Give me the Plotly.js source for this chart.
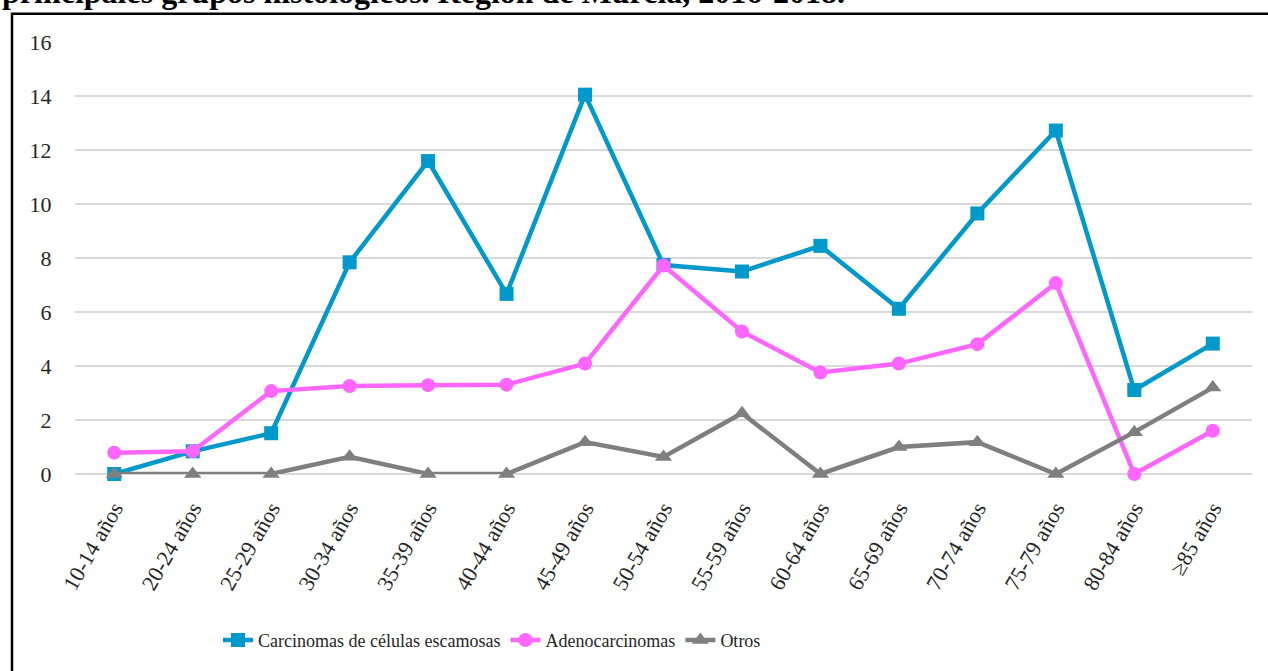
<!DOCTYPE html>
<html>
<head>
<meta charset="utf-8">
<script src="https://cdn.plot.ly/plotly-3.0.1.min.js"></script>
<style>
  html, body { margin: 0; padding: 0; background: #fff; }
  #chart { width: 1268px; height: 671px; }
</style>
</head>
<body>
<div id="chart"></div>
<script>
// age groups (x categories)
const ageGroups = ['10-14 años', '20-24 años', '25-29 años', '30-34 años', '35-39 años',
    '40-44 años', '45-49 años', '50-54 años', '55-59 años', '60-64 años',
    '65-69 años', '70-74 años', '75-79 años', '80-84 años', '≥85 años'];

// rates
const carcinomasEscamosas = [0, 0.84, 1.51, 7.84, 11.59, 6.67, 14.05, 7.74, 7.5, 8.45, 6.12, 9.65, 12.72, 3.11, 4.83];
const adenocarcinomas = [0.79, 0.84, 3.07, 3.26, 3.29, 3.31, 4.09, 7.72, 5.28, 3.76, 4.09, 4.81, 7.07, 0, 1.6];
const otros = [0, 0, 0, 0.64, 0, 0, 1.18, 0.63, 2.25, 0, 1.0, 1.18, 0, 1.55, 3.2];

const yTicks = [0, 2, 4, 6, 8, 10, 12, 14, 16];

const serif = '"Liberation Serif", "DejaVu Serif", serif';

function series(name, y, color, symbol, size) {
    return {
        x: ageGroups, y, name, type: 'scatter', mode: 'lines+markers', cliponaxis: false,
        line: { color, width: 4.5 },
        marker: { color, symbol, size },
    };
}

const traces = [
    series('Carcinomas de células escamosas', carcinomasEscamosas, '#0099CC', 'square', 14),
    series('Adenocarcinomas', adenocarcinomas, '#FF66FF', 'circle', 14),
    series('Otros', otros, '#7F7F7F', 'triangle-up', 15),
];

// outer frame: top/left edges visible, right/bottom run past the picture
const L = 75, T = 42, W = 1177, H = 434;
const px = v => (v - L) / W, py = v => (T + H - v) / H;

const layout = {
    width: 1268, height: 671,
    margin: { l: L, r: 1268 - L - W, t: T, b: 671 - T - H },
    paper_bgcolor: '#fff', plot_bgcolor: '#fff',
    font: { family: serif, color: '#262626' },
    showlegend: true,
    legend: {
        orientation: 'h', x: px(218), xanchor: 'left', y: py(643), yanchor: 'middle',
        font: { size: 18, color: '#262626' }, itemwidth: 30, traceorder: 'normal',
    },
    xaxis: {
        type: 'category', range: [-0.5, ageGroups.length - 0.5],
        showgrid: false, showline: false, zeroline: false,
        tickangle: -60, tickfont: { size: 22, color: '#262626' },
        ticks: 'outside', ticklen: 12, tickcolor: 'rgba(0,0,0,0)',
        fixedrange: true,
    },
    yaxis: {
        range: [0, 16], tickvals: yTicks, ticktext: yTicks.map(String),
        showgrid: true, gridcolor: '#D9D9D9', gridwidth: 2,
        zeroline: true, zerolinecolor: '#D9D9D9', zerolinewidth: 2,
        showline: false, tickfont: { size: 22, color: '#262626' },
        ticks: 'outside', ticklen: 18, tickcolor: 'rgba(0,0,0,0)',
        fixedrange: true,
    },
    shapes: [{
        type: 'rect', xref: 'paper', yref: 'paper', layer: 'below',
        x0: px(12), x1: px(1290), y0: py(700), y1: py(13.5),
        line: { color: '#000', width: 2.5 }, fillcolor: 'rgba(0,0,0,0)',
    }],
    annotations: [{
        xref: 'paper', yref: 'paper', x: px(0), y: py(12), xanchor: 'left', yanchor: 'bottom',
        showarrow: false, align: 'left',
        text: '<b>principales grupos histológicos. Región de Murcia, 2016-2018.</b>',
        font: { family: serif, size: 32, color: '#000' },
    }],
};

Plotly.newPlot('chart', traces, layout, { displayModeBar: false, staticPlot: true });
</script>
</body>
</html>
